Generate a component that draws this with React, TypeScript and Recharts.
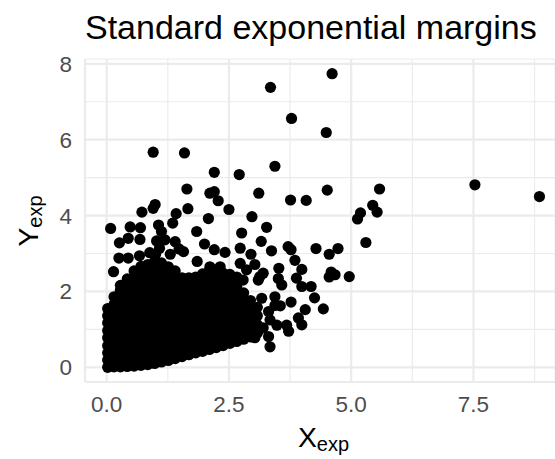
import React from "react";
import { ScatterChart, Scatter, XAxis, YAxis, CartesianGrid } from "recharts";

const FONT = "'Liberation Sans', Arial, Helvetica, sans-serif";

const xTicks = [0, 1.25, 2.5, 3.75, 5, 6.25, 7.5, 8.75];
const xTickLabels = ["0.0", "", "2.5", "", "5.0", "", "7.5", ""];
const yTicks = [0, 1, 2, 3, 4, 5, 6, 7, 8];
const yTickLabels = ["0", "", "2", "", "4", "", "6", "", "8"];

// the dense cloud near the origin, read column by column
const coreX = [0.02, 0.15, 0.28, 0.42, 0.56, 0.7, 0.84, 0.98, 1.12, 1.26, 1.4, 1.54, 1.68, 1.82, 1.96, 2.1, 2.24, 2.38, 2.52, 2.66, 2.8, 2.94, 3.08];
const coreY = [
  [0.0, 0.19, 0.38, 0.57, 0.78, 0.97, 1.17, 1.36, 1.55],
  [0.01, 0.22, 0.43, 0.62, 0.84, 1.05, 1.24, 1.45, 1.66, 1.86],
  [0.01, 0.2, 0.4, 0.61, 0.8, 1.01, 1.21, 1.42, 1.63, 1.83, 2.03, 2.16],
  [0.02, 0.23, 0.44, 0.63, 0.84, 1.06, 1.26, 1.47, 1.67, 1.88, 2.09, 2.33],
  [0.03, 0.21, 0.42, 0.64, 0.85, 1.04, 1.25, 1.46, 1.68, 1.89, 2.1, 2.31, 2.54],
  [0.05, 0.26, 0.46, 0.67, 0.88, 1.08, 1.29, 1.5, 1.71, 1.92, 2.13, 2.34, 2.55, 2.66],
  [0.07, 0.24, 0.45, 0.65, 0.86, 1.07, 1.28, 1.49, 1.7, 1.91, 2.12, 2.33, 2.52, 2.71],
  [0.1, 0.29, 0.49, 0.7, 0.9, 1.11, 1.32, 1.52, 1.73, 1.94, 2.15, 2.36, 2.57, 2.79],
  [0.14, 0.33, 0.53, 0.74, 0.95, 1.15, 1.36, 1.57, 1.78, 1.99, 2.2, 2.41, 2.6, 2.75],
  [0.18, 0.37, 0.58, 0.78, 0.99, 1.2, 1.4, 1.61, 1.82, 2.03, 2.24, 2.45, 2.65],
  [0.23, 0.42, 0.62, 0.83, 1.04, 1.24, 1.45, 1.66, 1.87, 2.08, 2.3, 2.54],
  [0.28, 0.47, 0.68, 0.88, 1.09, 1.3, 1.51, 1.72, 1.93, 2.14, 2.36],
  [0.33, 0.52, 0.73, 0.93, 1.14, 1.35, 1.56, 1.77, 1.98, 2.19, 2.36],
  [0.38, 0.57, 0.78, 0.98, 1.19, 1.4, 1.61, 1.82, 2.03, 2.22, 2.38],
  [0.42, 0.61, 0.82, 1.03, 1.23, 1.44, 1.65, 1.86, 2.07, 2.27, 2.46],
  [0.47, 0.66, 0.87, 1.07, 1.28, 1.49, 1.7, 1.91, 2.12, 2.33, 2.55],
  [0.52, 0.71, 0.92, 1.12, 1.33, 1.54, 1.75, 1.96, 2.17, 2.37, 2.56],
  [0.57, 0.76, 0.96, 1.17, 1.38, 1.59, 1.8, 2.01, 2.22, 2.48],
  [0.63, 0.81, 1.01, 1.22, 1.43, 1.64, 1.85, 2.06, 2.27, 2.45],
  [0.68, 0.87, 1.07, 1.28, 1.49, 1.7, 1.91, 2.12, 2.38],
  [0.74, 0.93, 1.13, 1.34, 1.56, 1.77, 1.96],
  [0.8, 1.0, 1.21, 1.42, 1.62, 1.76],
  [0.9, 1.12, 1.36, 1.58],
];

// scattered points above the cloud
const upperFringe: [number, number][] = [
  [0.08, 3.66], [0.14, 2.52], [0.25, 2.88], [0.26, 3.28], [0.44, 3.4], [0.44, 2.88], [0.67, 2.94],
  [0.48, 3.7], [0.69, 3.68], [0.68, 3.37], [0.72, 4.09], [0.95, 4.19], [0.99, 4.29], [1.06, 3.75],
  [1.12, 3.58], [1.19, 3.36], [1.02, 3.33], [1.08, 3.14], [0.88, 3.02], [1.0, 2.98], [1.3, 2.98],
  [1.4, 3.31], [1.35, 3.8], [1.42, 4.05], [1.66, 4.18], [1.64, 4.7], [1.48, 3.12], [1.57, 3.05],
  [1.84, 3.58], [1.85, 2.79], [2.0, 3.25], [2.08, 3.92], [2.2, 3.1], [2.42, 3.03], [2.5, 4.16],
  [2.11, 4.59], [2.2, 4.63], [2.28, 4.39], [2.2, 5.14], [2.71, 5.08], [0.95, 5.67], [1.59, 5.65],
  [2.73, 3.14], [2.76, 3.54], [2.97, 3.97], [3.11, 4.59], [2.95, 2.98], [2.11, 2.65], [2.32, 2.65],
  [2.86, 2.57], [2.79, 2.3], [2.73, 2.74],
];

// right-hand spread between x = 3 and 5.5
const rightSpread: [number, number][] = [
  [3.27, 3.69], [3.16, 3.32], [3.37, 3.07], [3.71, 3.18], [3.77, 3.1], [4.28, 3.13], [4.55, 2.98],
  [4.73, 3.13], [5.3, 3.29], [3.85, 2.82], [3.99, 2.58], [3.88, 2.35], [3.99, 2.13], [4.18, 2.13],
  [4.59, 2.51], [4.55, 2.38], [4.67, 2.44], [4.96, 2.39], [3.52, 2.61], [3.51, 2.34], [3.58, 2.17],
  [3.03, 2.71], [3.2, 2.48], [3.1, 2.3], [3.13, 2.39], [4.25, 1.83], [4.43, 1.54], [4.06, 1.52],
  [3.92, 1.3], [3.99, 1.12], [3.77, 1.72], [3.44, 1.86], [3.44, 1.63], [3.55, 1.62], [3.17, 1.82],
  [3.31, 1.47], [3.03, 1.56], [3.48, 1.11], [3.68, 1.11], [3.72, 0.95], [3.2, 1.04], [3.31, 0.81],
  [3.34, 0.54], [3.03, 0.78], [3.34, 1.25], [3.03, 1.25],
];

// the far points
const outliers: [number, number][] = [
  [3.44, 5.3], [3.76, 4.41], [4.08, 4.4], [4.51, 4.67], [5.58, 4.7], [5.44, 4.27], [5.53, 4.09],
  [5.19, 4.07], [5.13, 3.91], [7.53, 4.81], [8.85, 4.5], [4.61, 7.74], [3.35, 7.38], [3.78, 6.56],
  [4.49, 6.19],
];

const points = [
  ...coreX.flatMap((x, i) => coreY[i].map((y) => ({ x, y }))),
  ...[...upperFringe, ...rightSpread, ...outliers].map(([x, y]) => ({ x, y })),
];

const gridLine = (p: any) => (
  <line
    key={p.key}
    x1={p.x1}
    y1={p.y1}
    x2={p.x2}
    y2={p.y2}
    stroke="#EBEBEB"
    strokeWidth={p.index % 2 === 0 ? 2.2 : 1.1}
  />
);

const dot = (p: any) => <circle cx={p.cx} cy={p.cy} r={5.6} fill="#000" />;

export default function App() {
  return (
    <div style={{ position: "absolute", left: 0, top: 0, width: 555, height: 459, overflow: "hidden", background: "#fff" }}>
      <ScatterChart width={555} height={459} margin={{ top: 59, right: 0, bottom: 47, left: 55 }}>
        <CartesianGrid horizontal={gridLine} vertical={gridLine} />
        <XAxis
          type="number"
          dataKey="x"
          domain={[-0.444, 9.168]}
          allowDataOverflow
          ticks={xTicks}
          interval={0}
          tickFormatter={(v: number) => xTickLabels[xTicks.indexOf(v)] ?? ""}
          height={30}
          axisLine={false}
          tickLine={false}
          tickSize={0}
          tickMargin={14}
          tick={{ fill: "#4D4D4D", fontSize: 22.5, fontFamily: FONT }}
        />
        <YAxis
          type="number"
          dataKey="y"
          domain={[-0.388, 8.127]}
          allowDataOverflow
          ticks={yTicks}
          interval={0}
          tickFormatter={(v: number) => yTickLabels[yTicks.indexOf(v)] ?? ""}
          width={30}
          axisLine={false}
          tickLine={false}
          tickSize={0}
          tickMargin={13}
          tick={{ fill: "#4D4D4D", fontSize: 22.5, fontFamily: FONT }}
        />
        <Scatter data={points} shape={dot} isAnimationActive={false} />
      </ScatterChart>
      <svg width={555} height={459} style={{ position: "absolute", left: 0, top: 0, pointerEvents: "none" }}>
        <text x={85} y={39} fontSize={34} fontFamily={FONT} fill="#000">
          Standard exponential margins
        </text>
        <text x={323.5} y={447} textAnchor="middle" fontFamily={FONT} fill="#000">
          <tspan fontSize={28.3}>X</tspan>
          <tspan fontSize={20} dy={4}>exp</tspan>
        </text>
        <text transform="translate(38,221) rotate(-90)" textAnchor="middle" fontFamily={FONT} fill="#000">
          <tspan fontSize={28.3}>Y</tspan>
          <tspan fontSize={20} dy={4}>exp</tspan>
        </text>
      </svg>
    </div>
  );
}
